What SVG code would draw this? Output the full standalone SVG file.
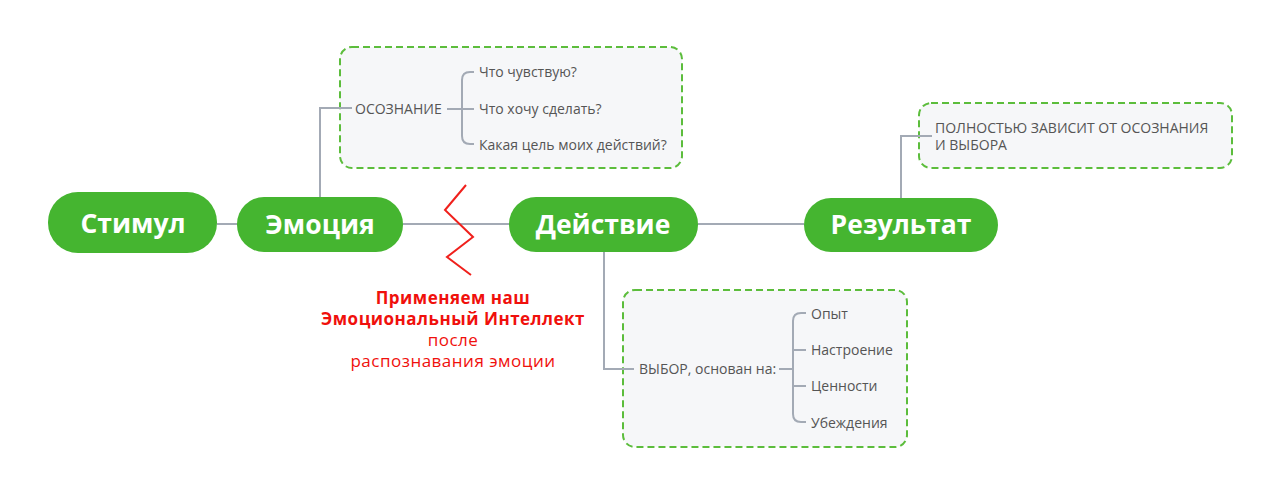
<svg xmlns="http://www.w3.org/2000/svg" width="1280" height="496" viewBox="0 0 1280 496">
<style>
.node{fill:#45b530}
.nt{font-family:"Open Sans","Noto Sans",sans-serif;font-weight:700;font-size:26.5px;fill:#fff;text-anchor:middle}
.box{fill:#f6f7f9;stroke:#5cbd3c;stroke-width:2;stroke-dasharray:7 4}
.t{font-family:"Open Sans","Noto Sans",sans-serif;font-size:14px;fill:#555}
.ln{fill:none;stroke:#a3aab5;stroke-width:2}
.red{font-family:"Open Sans","Noto Sans",sans-serif;font-size:17px;letter-spacing:0.5px;fill:#f0100c;text-anchor:middle}
</style>
<rect width="1280" height="496" fill="#fff"/>
<g id="osoznanie">
<rect class="box" x="340" y="47" width="342" height="121" rx="12"/>
<text class="t" x="355" y="114">ОСОЗНАНИЕ</text>
<text class="t" x="479" y="77">Что чувствую?</text>
<text class="t" x="479" y="114">Что хочу сделать?</text>
<text class="t" x="479" y="150">Какая цель моих действий?</text>
</g>
<g id="rezultat-note">
<rect class="box" x="919" y="103" width="313" height="65" rx="12"/>
<text class="t" x="935" y="133">ПОЛНОСТЬЮ ЗАВИСИТ ОТ ОСОЗНАНИЯ</text>
<text class="t" x="935" y="150">И ВЫБОРА</text>
</g>
<g id="vybor">
<rect class="box" x="623" y="290" width="284" height="157" rx="12"/>
<text class="t" x="639" y="374">ВЫБОР, основан на:</text>
<text class="t" x="811" y="319">Опыт</text>
<text class="t" x="811" y="355">Настроение</text>
<text class="t" x="811" y="391">Ценности</text>
<text class="t" x="811" y="428">Убеждения</text>
</g>
<g id="connectors">
<path class="ln" d="M217 224H237M403 224H509M698 224H804"/>
<path class="ln" d="M320 198V108H352"/>
<path class="ln" d="M447 109H462M474 72H470Q462 72 462 80V136Q462 144 470 144H474M462 109H474"/>
<path class="ln" d="M901 198V136H932"/>
<path class="ln" d="M604 252V369H634"/>
<path class="ln" d="M779 369H793M806 313H801Q793 313 793 321V414Q793 422 801 422H806M793 350H806M793 386H806"/>
</g>
<g id="stimul"><rect class="node" x="48" y="192" width="169" height="61" rx="30"/><text class="nt" x="133" y="233">Стимул</text></g>
<g id="emotsiya"><rect class="node" x="237" y="197" width="166" height="55" rx="27"/><text class="nt" x="320" y="234">Эмоция</text></g>
<g id="deystvie"><rect class="node" x="509" y="197" width="189" height="55" rx="27"/><text class="nt" x="603" y="234">Действие</text></g>
<g id="rezultat"><rect class="node" x="804" y="198" width="194" height="54" rx="27"/><text class="nt" x="901" y="234">Результат</text></g>
<g id="barrier">
<polyline points="466,185 445,210 473,237 447,257 471,275" fill="none" stroke="#f0201c" stroke-width="2"/>
<text class="red" x="453" y="304" font-weight="700">Применяем наш</text>
<text class="red" x="453" y="325" font-weight="700">Эмоциональный Интеллект</text>
<text class="red" x="453" y="346">после</text>
<text class="red" x="453" y="367">распознавания эмоции</text>
</g>
</svg>
